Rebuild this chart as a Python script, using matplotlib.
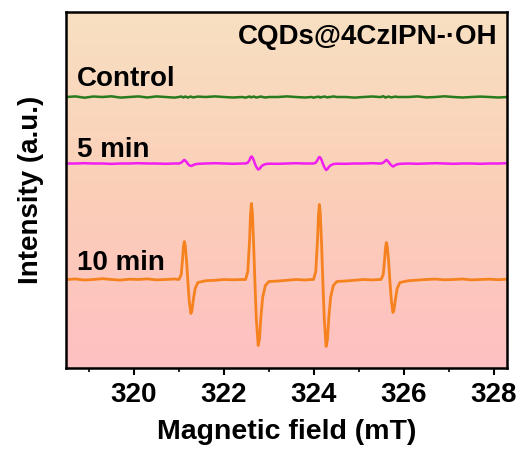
import numpy as np
import matplotlib
matplotlib.use("Agg")
import matplotlib.pyplot as plt
from matplotlib.colors import LinearSegmentedColormap

plt.rcParams['font.family'] = ['Liberation Sans', 'DejaVu Sans']
plt.rcParams['font.weight'] = 'bold'

# ---- data ----
field = [318.5, 318.7, 318.9, 319.1, 319.3, 319.5, 319.7, 319.9, 320.1, 320.3, 320.5, 320.7, 320.9,
         321.00, 321.05, 321.08, 321.10, 321.12, 321.14, 321.17, 321.20, 321.23, 321.265, 321.29, 321.32, 321.36, 321.42,
         321.6, 321.8, 322.0, 322.2, 322.4,
         322.48, 322.53, 322.57, 322.59, 322.61, 322.63, 322.66, 322.69, 322.72, 322.76, 322.79, 322.82, 322.86, 322.92, 323.0,
         323.2, 323.4, 323.6, 323.8, 323.95,
         323.99, 324.04, 324.08, 324.10, 324.12, 324.14, 324.17, 324.20, 324.23, 324.27, 324.30, 324.33, 324.37, 324.43, 324.51,
         324.7, 324.9, 325.1, 325.3, 325.45,
         325.49, 325.54, 325.57, 325.59, 325.61, 325.63, 325.66, 325.69, 325.72, 325.755, 325.78, 325.81, 325.85, 325.91,
         326.1, 326.3, 326.5, 326.7, 326.9, 327.1, 327.3, 327.5, 327.7, 327.9, 328.1, 328.3]

control = [0, 0.6, -0.7, 0.5, 0, 0.7, -0.6, 0, 0.6, -0.5, 0.6, 0, -0.6,
           0, 0.5, 0, -0.5, 0, 0.5, 0, -0.6, 0, 0.5, 0, -0.4, 0, 0.4,
           0, 0.6, 0, -0.5, 0,
           -0.6, 0, 0.5, 0, -0.4, 0, 0.5, 0, -0.6, 0, 0, 0.5, 0, -0.5, 0,
           0, 0.6, 0, -0.5, 0,
           -0.7, 0, 0, 0.4, 0, -0.6, 0, 0, 0.5, 0, -0.5, 0, 0, 0.6, 0,
           0, -0.6, 0, 0.5, 0,
           0, 0.8, 0, -0.6, 0, 0, 0.5, 0, -0.4, 0, 0, 0.5, 0, 0,
           0, 0.6, -0.4, 0, 0.7, 0, -0.5, 0, 0.4, 0, -0.5, 0]

min5 = [0, 0, 0.3, 0, 0, -0.4, 0, 0, 0.3, 0, 0, -0.3, 0,
        0, 0.8, 2, 3, 3.5, 3, 1.5, -0.5, -1.8, -2.5, -2.2, -1.5, -0.8, -0.3,
        0, 0.3, 0, -0.3, 0,
        0, 0.8, 3.5, 6, 7, 6.5, 3.5, -0.5, -3.5, -6, -5.5, -3.5, -1.8, -0.6, -0.2,
        -0.3, 0, 0.3, 0, 0,
        0, 0.8, 3.5, 5.5, 6.5, 6, 3.5, -0.5, -3.5, -6.5, -5.5, -3.5, -1.8, -0.6, -0.2,
        -0.3, 0, 0, 0.3, 0,
        0, 0.8, 2, 3, 3.5, 3, 1.5, -0.5, -1.8, -3, -2.5, -1.5, -0.8, -0.3,
        0, -0.3, 0, 0.3, 0, -0.3, 0, 0, -0.3, 0, 0, 0.3]

min10 = [0, 0.5, -0.5, 0, 0.8, 0, -0.6, 0.3, 0, 0.6, -0.4, 0, 0.5,
         0, 5, 20, 33, 38, 34, 18, -3, -22, -34, -31, -20, -9, -3,
         -1.2, -0.8, 0, -0.3, 0,
         0, 8, 40, 65, 76, 68, 35, -5, -40, -66, -60, -38, -18, -6, -2,
         -1.5, -0.8, 0, -0.5, 0,
         0, 8, 40, 64, 75, 67, 35, -5, -40, -67, -60, -38, -18, -6, -2,
         -1.5, -0.8, 0, -0.4, 0,
         0, 5, 20, 32, 37, 33, 18, -3, -21, -33, -30, -20, -9, -3,
         -1.2, -0.6, 0, 0.4, -0.3, 0, 0.5, -0.4, 0, 0.3, -0.2, 0.4]

labels = ["Control", "5 min", "10 min"]
offsets = [271, 204.5, 88.5]
colors = ["#2a7a1e", "#f01ef0", "#f5821f"]
xticks = [320, 322, 324, 326, 328]
title_text = "CQDs@4CzIPN-·OH"

# ---- figure ----
fig = plt.figure(figsize=(5.2, 4.54), dpi=100)
ax = fig.add_axes([66/520, 1-368/454, (507-66)/520, (368-12)/454])

cmap = LinearSegmentedColormap.from_list("bg", ["#f8e0c2", "#fbcfb8", "#ffc0c2"])
grad = np.linspace(0, 1, 256).reshape(-1, 1)
ax.imshow(grad, cmap=cmap, aspect='auto', extent=[0, 1, 0, 1],
          transform=ax.transAxes, zorder=0)

series = [control, min5, min10]
widths = [1.8, 1.8, 2.0]
for s, off, c, w in zip(series, offsets, colors, widths):
    ax.plot(field, np.array(s) + off, color=c, lw=w, zorder=2)

ax.set_xlim(318.49, 328.29)
ax.set_ylim(0, 356)
ax.set_yticks([])
ax.set_xticks(xticks)
ax.set_xticks([319, 321, 323, 325, 327], minor=True)
ax.tick_params(axis='x', which='major', direction='out', length=5, width=1.5, labelsize=20, pad=5)
ax.tick_params(axis='x', which='minor', direction='out', length=3, width=1.2)
for lab in ax.get_xticklabels():
    lab.set_fontweight('bold')
for sp in ax.spines.values():
    sp.set_linewidth(1.8)

ax.set_xlabel("Magnetic field (mT)", fontsize=20.5, fontweight='bold', labelpad=8)
ax.set_ylabel("Intensity (a.u.)", fontsize=20, fontweight='bold', labelpad=16)

ax.text(0.978, 0.965, title_text, transform=ax.transAxes, ha='right', va='top',
        fontsize=20, fontweight='bold', zorder=3)
label_y = [289, 218, 105]
for lab, ly in zip(labels, label_y):
    ax.text(318.74, ly, lab, ha='left', va='center', fontsize=20, fontweight='bold', zorder=3)

fig.savefig("out.png", dpi=100)
